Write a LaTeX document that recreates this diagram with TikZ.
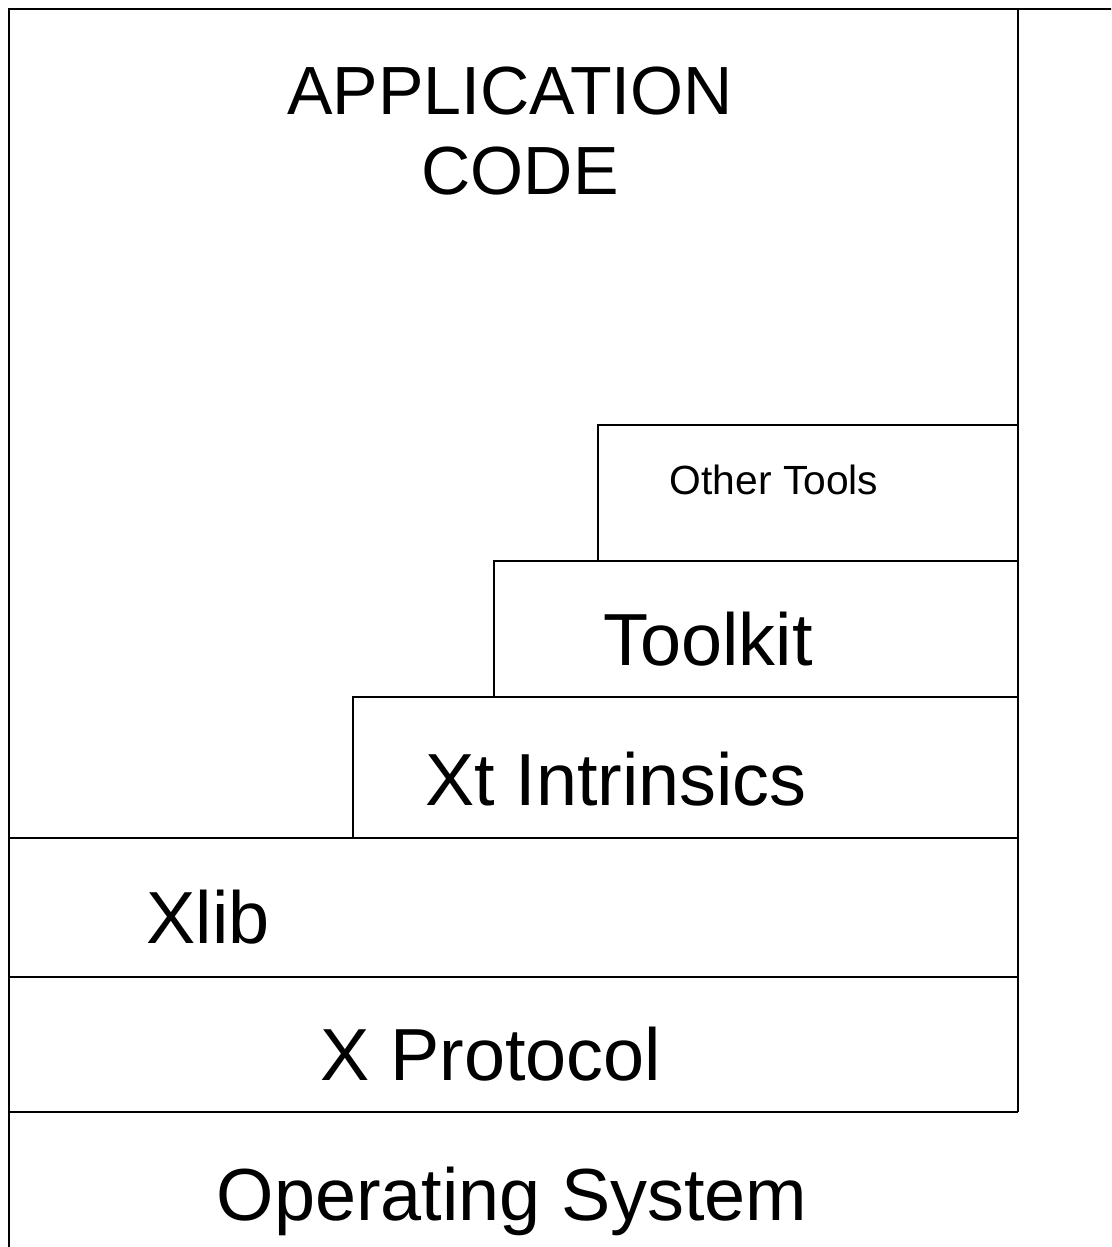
\documentclass[tikz,border=0pt]{standalone}
\usepackage{fontspec}
\setmainfont{Liberation Sans}
\usetikzlibrary{positioning}

\tikzset{
  layer/.style={draw=black, line width=0.8pt},
  big/.style={anchor=base, font=\fontsize{21pt}{25pt}\selectfont},
  title/.style={anchor=base, font=\fontsize{19.4pt}{23pt}\selectfont},
  small/.style={anchor=base, font=\fontsize{11.6pt}{13pt}\selectfont}
}

\begin{document}
\begin{tikzpicture}

\useasboundingbox (0,0) rectangle (11.11,-12.47);
\clip (0,0) rectangle (11.11,-12.47);

%%% 外枠
\draw[layer] (0.09,-0.09) rectangle (12,-13);
\draw[layer] (10.18,-0.09) --(10.18,-11.12);

%% 層
\draw[layer] (5.98,-5.61) --(5.98,-4.25) --(10.18,-4.25);
\draw[layer] (4.94,-6.97) --(4.94,-5.61) --(10.18,-5.61);
\draw[layer] (3.53,-8.38) --(3.53,-6.97) --(10.18,-6.97);
\draw[layer] (0.09,-8.38) --(10.18,-8.38);
\draw[layer] (0.09,-9.77) --(10.18,-9.77);
\draw[layer] (0.09,-11.12) --(10.18,-11.12);

%% 文字
\node[title] (app) at (5.10,-1.14) {APPLICATION};
\node[title] (code) at (5.20,-1.94) {CODE};
\node[small] (other) at (7.74,-4.94) {Other Tools};
\node[big] (toolkit) at (7.08,-6.65) {Toolkit};
\node[big] (xt) at (6.16,-8.05) {Xt Intrinsics};
\node[big] (xlib) at (2.08,-9.43) {Xlib};
\node[big] (proto) at (4.91,-10.80) {X Protocol};
\node[big] (os) at (5.12,-12.20) {Operating System};

\end{tikzpicture}
\end{document}
